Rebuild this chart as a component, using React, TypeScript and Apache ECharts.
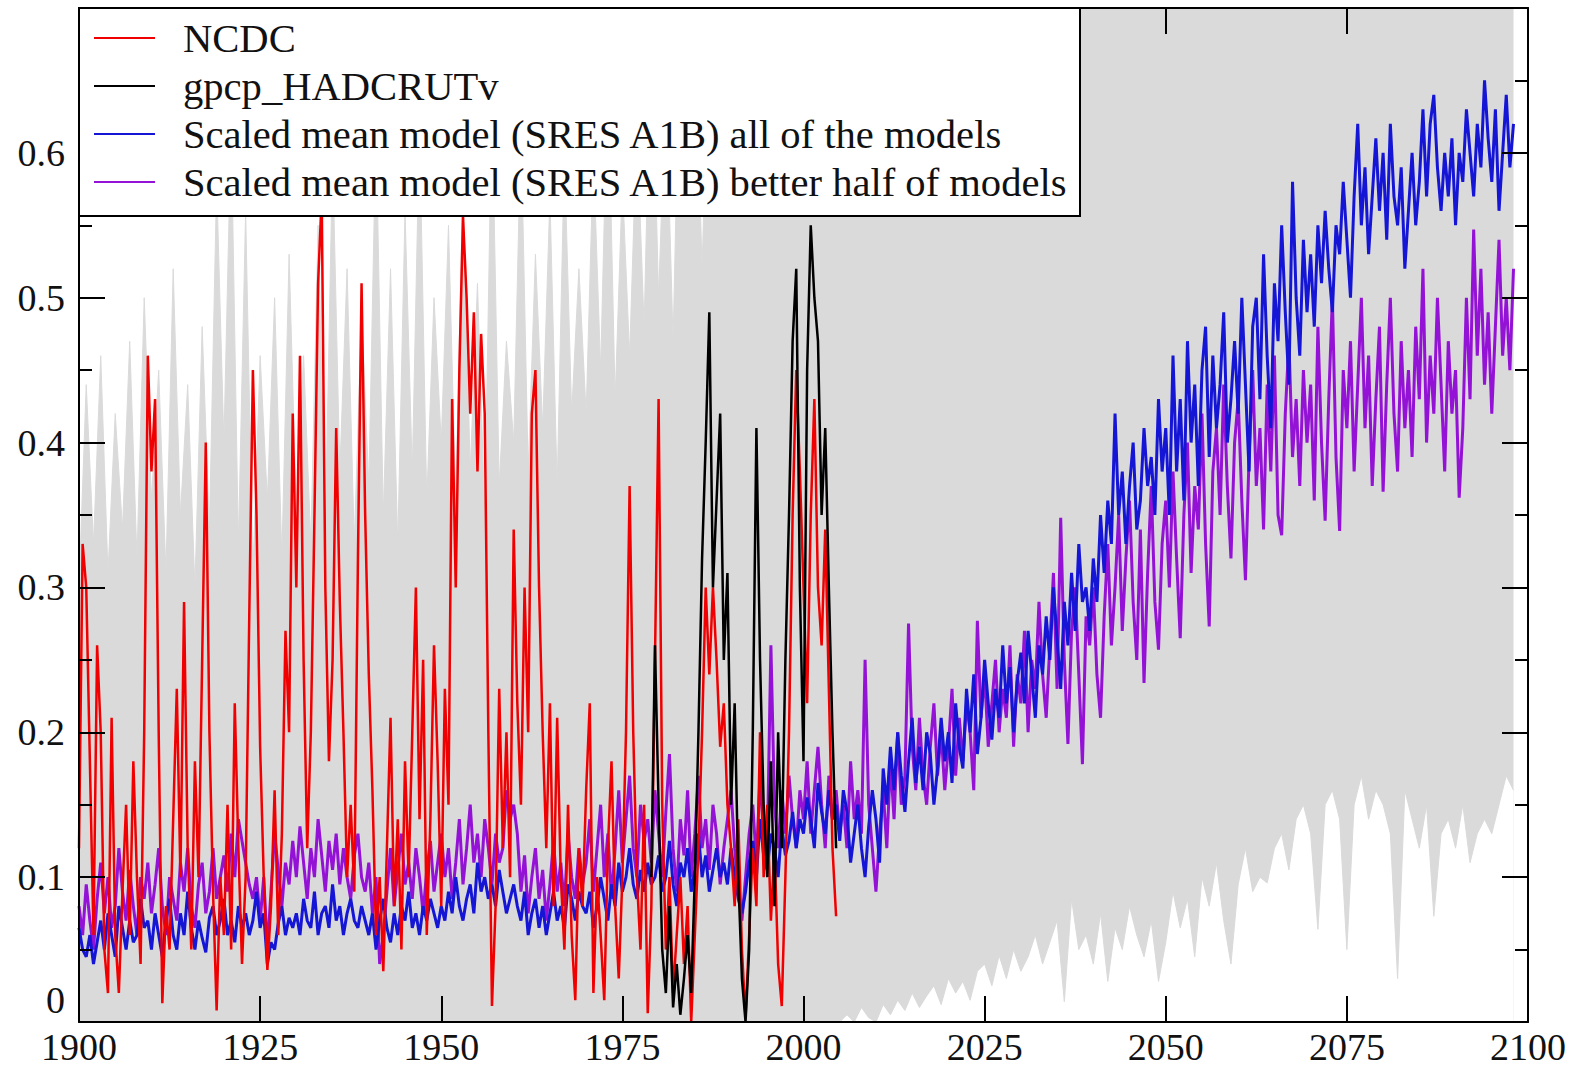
import React, { useEffect, useRef } from 'react';
import * as echarts from 'echarts';

const FONT = '"Liberation Serif", "Times New Roman", serif';

// axes
const xMin = 1900;
const xMax = 2100;
const xStep = 25;
const yMin = 0;
const yMax = 0.7;
const yStep = 0.1;

// legend / series names and colours
const seriesNames = [
  'NCDC',
  'gpcp_HADCRUTv',
  'Scaled mean model (SRES A1B) all of the models',
  'Scaled mean model (SRES A1B) better half of models',
];
const seriesColors = ['#f00000', '#000000', '#1515d6', '#9412d6'];
const bandColor = '#dadada';

// NCDC, half-year steps from 1900.0
const ncdcStart = 1900;
const ncdc = [
  0.12, 0.33, 0.3, 0.18, 0.06, 0.26, 0.2, 0.05, 0.02, 0.21, 0.06, 0.02, 0.09, 0.15, 0.06, 0.18, 0.1, 0.04, 0.2, 0.46,
  0.38, 0.43, 0.2, 0.013, 0.08, 0.05, 0.14, 0.23, 0.1, 0.29, 0.12, 0.05, 0.18, 0.1, 0.25, 0.4, 0.2, 0.09, 0.008, 0.1,
  0.06, 0.15, 0.05, 0.22, 0.12, 0.04, 0.1, 0.28, 0.45, 0.35, 0.19, 0.1, 0.036, 0.08, 0.16, 0.06, 0.13, 0.27, 0.2, 0.42,
  0.3, 0.46, 0.25, 0.12, 0.2, 0.35, 0.51, 0.57, 0.3, 0.18, 0.25, 0.41, 0.29, 0.2, 0.1, 0.15, 0.09, 0.32, 0.51, 0.35,
  0.24, 0.16, 0.06, 0.1, 0.035, 0.12, 0.21, 0.08, 0.14, 0.05, 0.18, 0.1, 0.2, 0.3, 0.14, 0.25, 0.06, 0.14, 0.26, 0.18,
  0.08, 0.23, 0.15, 0.43, 0.3, 0.45, 0.556, 0.5, 0.42, 0.49, 0.38, 0.475, 0.42, 0.2, 0.011, 0.08, 0.23, 0.12, 0.2, 0.1,
  0.34, 0.22, 0.15, 0.3, 0.2, 0.42, 0.45, 0.3, 0.2, 0.12, 0.22, 0.08, 0.21, 0.1, 0.05, 0.15, 0.06, 0.015, 0.12, 0.08,
  0.16, 0.22, 0.02, 0.1, 0.06, 0.015, 0.12, 0.18, 0.08, 0.03, 0.1, 0.2, 0.37, 0.2, 0.1, 0.05, 0.15, 0.006, 0.08, 0.25,
  0.43, 0.15, 0.05, 0.1, 0.02, 0.06, 0.1, 0.04, 0.08, 0.0, 0.06, 0.12, 0.2, 0.3, 0.24, 0.3, 0.25, 0.19, 0.22, 0.15,
  0.12, 0.08, 0.14, 0.05, 0.003, 0.06, 0.12, 0.08, 0.2, 0.1, 0.15, 0.07, 0.12, 0.04, 0.011, 0.1, 0.2, 0.35, 0.45, 0.38,
  0.3, 0.22, 0.35, 0.43, 0.3, 0.26, 0.34, 0.23, 0.12, 0.073,
];

// gpcp_HADCRUTv, half-year steps from 1979.0
const hadStart = 1979;
const hadcrut = [
  0.1, 0.26, 0.15, 0.05, 0.02, 0.08, 0.01, 0.04, 0.005, 0.03, 0.06, 0.02, 0.1, 0.2, 0.32, 0.4, 0.49, 0.3, 0.36, 0.42,
  0.25, 0.31, 0.15, 0.22, 0.1, 0.03, 0.0, 0.05, 0.2, 0.41, 0.25, 0.15, 0.1, 0.18, 0.08, 0.2, 0.12, 0.25, 0.35, 0.47,
  0.52, 0.3, 0.18, 0.45, 0.55, 0.5, 0.47, 0.35, 0.41, 0.3, 0.2, 0.12,
];

// scaled mean model, all models, half-year steps from 1900.0
const modelStart = 1900;
const allModels = [
  0.065, 0.05, 0.045, 0.06, 0.04, 0.055, 0.07, 0.05, 0.075, 0.06, 0.045, 0.08, 0.065, 0.05, 0.07, 0.055, 0.06, 0.085, 0.065, 0.07,
  0.05, 0.075, 0.06, 0.045, 0.07, 0.085, 0.06, 0.05, 0.075, 0.06, 0.09, 0.065, 0.05, 0.07, 0.058, 0.048, 0.072, 0.08, 0.06, 0.07,
  0.085, 0.06, 0.07, 0.055, 0.08, 0.065, 0.075, 0.06, 0.07, 0.09, 0.065, 0.075, 0.04, 0.055, 0.05, 0.068, 0.08, 0.06, 0.072, 0.065,
  0.075, 0.06, 0.085, 0.07, 0.065, 0.09, 0.06, 0.075, 0.08, 0.065, 0.095, 0.07, 0.08, 0.06, 0.075, 0.085, 0.07, 0.065, 0.08, 0.07,
  0.06, 0.075, 0.05, 0.07, 0.085, 0.065, 0.055, 0.075, 0.06, 0.08, 0.07, 0.09, 0.065, 0.075, 0.06, 0.08, 0.07, 0.085, 0.075, 0.065,
  0.08, 0.07, 0.09, 0.075, 0.1, 0.08, 0.07, 0.085, 0.095, 0.075, 0.11, 0.09, 0.1, 0.085, 0.095, 0.08, 0.105, 0.09, 0.075, 0.085,
  0.095, 0.08, 0.07, 0.09, 0.06, 0.075, 0.085, 0.065, 0.08, 0.06, 0.075, 0.09, 0.07, 0.08, 0.065, 0.095, 0.085, 0.07, 0.09, 0.08,
  0.075, 0.09, 0.065, 0.08, 0.1, 0.085, 0.07, 0.095, 0.08, 0.11, 0.09, 0.1, 0.12, 0.095, 0.085, 0.105, 0.09, 0.11, 0.095, 0.1,
  0.115, 0.09, 0.1, 0.125, 0.095, 0.08, 0.11, 0.1, 0.12, 0.09, 0.105, 0.13, 0.1, 0.115, 0.09, 0.105, 0.12, 0.1, 0.11, 0.095,
  0.12, 0.1, 0.085, 0.075, 0.09, 0.11, 0.125, 0.1, 0.14, 0.115, 0.105, 0.13, 0.12, 0.1, 0.135, 0.115, 0.125, 0.145, 0.12, 0.14,
  0.13, 0.155, 0.14, 0.12, 0.165, 0.145, 0.13, 0.16, 0.14, 0.15, 0.125, 0.16, 0.145, 0.11, 0.13, 0.15, 0.12, 0.1, 0.135, 0.16,
  0.14, 0.11, 0.175, 0.15, 0.19, 0.16, 0.2, 0.17, 0.145, 0.18, 0.21, 0.165, 0.19, 0.16, 0.2, 0.185, 0.15, 0.175, 0.21, 0.18,
  0.2, 0.165, 0.22, 0.19, 0.175, 0.23, 0.2, 0.24, 0.185, 0.21, 0.25, 0.22, 0.195, 0.23, 0.21, 0.26, 0.22, 0.245, 0.2, 0.235,
  0.255, 0.22, 0.27, 0.24, 0.21, 0.26, 0.24, 0.28, 0.25, 0.3, 0.265, 0.23, 0.29, 0.26, 0.31, 0.27, 0.33, 0.29, 0.3, 0.27,
  0.32, 0.29, 0.35, 0.31, 0.36, 0.33, 0.42, 0.35, 0.38, 0.33, 0.37, 0.4, 0.34, 0.36, 0.41, 0.37, 0.39, 0.35, 0.43, 0.38,
  0.41, 0.35, 0.46, 0.38, 0.43, 0.36, 0.47, 0.4, 0.44, 0.37, 0.45, 0.48, 0.39, 0.46, 0.41, 0.44, 0.49, 0.4, 0.43, 0.47,
  0.42, 0.5, 0.44, 0.38, 0.48, 0.5, 0.43, 0.53, 0.46, 0.41, 0.51, 0.47, 0.55, 0.49, 0.44, 0.58, 0.5, 0.46, 0.54, 0.49,
  0.53, 0.48, 0.55, 0.51, 0.56, 0.52, 0.49, 0.55, 0.53, 0.58, 0.54, 0.5, 0.57, 0.62, 0.55, 0.59, 0.53, 0.57, 0.61, 0.56,
  0.6, 0.54, 0.62, 0.57, 0.55, 0.59, 0.52, 0.56, 0.6, 0.55, 0.58, 0.63, 0.57, 0.62, 0.64, 0.59, 0.56, 0.6, 0.57, 0.61,
  0.55, 0.6, 0.58, 0.63, 0.6, 0.57, 0.62, 0.59, 0.65, 0.61, 0.58, 0.63, 0.56, 0.6, 0.64, 0.59, 0.62,
];

// scaled mean model, better half, half-year steps from 1900.0
const betterHalf = [
  0.08, 0.06, 0.095, 0.07, 0.05, 0.085, 0.11, 0.075, 0.1, 0.065, 0.08, 0.12, 0.09, 0.07, 0.105, 0.08, 0.06, 0.1, 0.085, 0.11,
  0.075, 0.095, 0.12, 0.08, 0.06, 0.1, 0.085, 0.07, 0.11, 0.09, 0.12, 0.08, 0.065, 0.095, 0.11, 0.075, 0.09, 0.12, 0.085, 0.1,
  0.115, 0.09, 0.13, 0.1, 0.14, 0.125, 0.11, 0.095, 0.085, 0.1, 0.07, 0.1, 0.05, 0.09, 0.13, 0.105, 0.08, 0.11, 0.095, 0.125,
  0.1, 0.135, 0.11, 0.085, 0.12, 0.1, 0.14, 0.115, 0.09, 0.125, 0.105, 0.13, 0.095, 0.12, 0.1, 0.085, 0.115, 0.13, 0.1, 0.09,
  0.11, 0.075, 0.1, 0.04, 0.06, 0.09, 0.12, 0.08, 0.105, 0.13, 0.095, 0.11, 0.085, 0.12, 0.1, 0.075, 0.105, 0.125, 0.09, 0.11,
  0.13, 0.1, 0.12, 0.085, 0.11, 0.14, 0.095, 0.12, 0.15, 0.11, 0.13, 0.1, 0.14, 0.12, 0.095, 0.13, 0.11, 0.12, 0.16, 0.14,
  0.15, 0.13, 0.09, 0.115, 0.075, 0.1, 0.12, 0.085, 0.105, 0.07, 0.095, 0.125, 0.09, 0.11, 0.08, 0.13, 0.1, 0.085, 0.12, 0.095,
  0.11, 0.14, 0.09, 0.12, 0.15, 0.1, 0.13, 0.085, 0.12, 0.16, 0.11, 0.14, 0.17, 0.12, 0.1, 0.15, 0.125, 0.14, 0.11, 0.16,
  0.13, 0.1, 0.145, 0.185, 0.12, 0.09, 0.14, 0.115, 0.16, 0.1, 0.13, 0.17, 0.12, 0.14, 0.105, 0.15, 0.13, 0.095, 0.12, 0.14,
  0.16, 0.12, 0.09, 0.07, 0.1, 0.13, 0.15, 0.11, 0.17, 0.13, 0.12, 0.26, 0.15, 0.12, 0.16, 0.13, 0.17, 0.14, 0.12, 0.16,
  0.14, 0.18, 0.13, 0.16, 0.19, 0.15, 0.12, 0.17, 0.14, 0.16, 0.13, 0.15, 0.12, 0.18, 0.14, 0.16, 0.13, 0.25, 0.15, 0.12,
  0.09, 0.13, 0.16, 0.12, 0.18, 0.14, 0.2, 0.15, 0.17, 0.275, 0.19, 0.16, 0.21, 0.17, 0.15, 0.19, 0.22, 0.17, 0.2, 0.16,
  0.19, 0.23, 0.17, 0.21, 0.18, 0.22, 0.2, 0.16, 0.277, 0.21, 0.24, 0.19, 0.22, 0.25, 0.2, 0.23, 0.21, 0.26, 0.19, 0.24,
  0.22, 0.27, 0.2, 0.25, 0.23, 0.29, 0.24, 0.21, 0.26, 0.31, 0.23, 0.348, 0.25, 0.192, 0.27, 0.3, 0.24, 0.178, 0.28, 0.26,
  0.3, 0.24, 0.21, 0.28, 0.33, 0.26, 0.3, 0.35, 0.27, 0.32, 0.36, 0.29, 0.25, 0.34, 0.234, 0.31, 0.37, 0.29, 0.257, 0.33,
  0.36, 0.3, 0.38, 0.32, 0.265, 0.35, 0.4, 0.31, 0.37, 0.34, 0.42, 0.33, 0.273, 0.38, 0.41, 0.35, 0.44, 0.37, 0.32, 0.4,
  0.43, 0.36, 0.305, 0.39, 0.45, 0.37, 0.41, 0.34, 0.44, 0.38, 0.46, 0.35, 0.336, 0.42, 0.47, 0.39, 0.43, 0.37, 0.45, 0.4,
  0.44, 0.36, 0.48, 0.4, 0.346, 0.43, 0.5, 0.39, 0.339, 0.45, 0.41, 0.47, 0.38, 0.44, 0.5, 0.41, 0.46, 0.37, 0.43, 0.48,
  0.366, 0.44, 0.5, 0.42, 0.38, 0.47, 0.41, 0.45, 0.39, 0.48, 0.43, 0.52, 0.4, 0.46, 0.42, 0.5, 0.44, 0.38, 0.47, 0.42,
  0.45, 0.362, 0.41, 0.5, 0.43, 0.547, 0.46, 0.52, 0.44, 0.49, 0.42, 0.48, 0.54, 0.46, 0.5, 0.45, 0.52,
];

// model spread (grey band), yearly from 1900
const bandStart = 1900;
const bandHigh = [
  0.3, 0.44, 0.33, 0.46, 0.31, 0.42, 0.34, 0.47, 0.32, 0.5,
  0.36, 0.45, 0.31, 0.52, 0.35, 0.44, 0.3, 0.48, 0.34, 0.58,
  0.4, 0.62, 0.33, 0.56, 0.31, 0.46, 0.36, 0.5, 0.32, 0.53,
  0.35, 0.46, 0.33, 0.55, 0.34, 0.6, 0.38, 0.52, 0.33, 0.49,
  0.37, 0.62, 0.35, 0.52, 0.33, 0.56, 0.38, 0.62, 0.36, 0.5,
  0.4, 0.55, 0.36, 0.58, 0.38, 0.51, 0.35, 0.64, 0.37, 0.47,
  0.4, 0.62, 0.38, 0.53, 0.41, 0.57, 0.37, 0.6, 0.42, 0.52,
  0.42, 0.6, 0.45, 0.66, 0.43, 0.58, 0.46, 0.62, 0.48, 0.7,
  0.5, 0.65, 0.47, 0.7, 0.55, 0.7, 0.52, 0.7, 0.58, 0.7,
  0.6, 0.7, 0.55, 0.7, 0.62, 0.7, 0.58, 0.7, 0.66, 0.7,
  0.7, 0.6, 0.7, 0.64, 0.7, 0.56, 0.7, 0.62, 0.7, 0.66,
  0.7, 0.6, 0.7, 0.7, 0.64, 0.7, 0.7, 0.68, 0.7, 0.7,
  0.7, 0.66, 0.7, 0.7, 0.68, 0.7, 0.7, 0.7, 0.65, 0.7,
  0.7, 0.7, 0.7, 0.7, 0.7, 0.7, 0.7, 0.7, 0.7, 0.7,
  0.7, 0.7, 0.7, 0.7, 0.7, 0.7, 0.7, 0.7, 0.7, 0.7,
  0.7, 0.7, 0.7, 0.7, 0.7, 0.7, 0.7, 0.7, 0.7, 0.7,
  0.7, 0.7, 0.7, 0.7, 0.7, 0.7, 0.7, 0.7, 0.7, 0.7,
  0.7, 0.7, 0.7, 0.7, 0.7, 0.7, 0.7, 0.7, 0.7, 0.7,
  0.7, 0.7, 0.7, 0.7, 0.7, 0.7, 0.7, 0.7, 0.7, 0.7,
  0.7, 0.7, 0.7, 0.7, 0.7, 0.7, 0.7, 0.7, 0.7,
];
const bandLow = [
  0, 0, 0, 0, 0, 0, 0, 0, 0, 0,
  0, 0, 0, 0, 0, 0, 0, 0, 0, 0,
  0, 0, 0, 0, 0, 0, 0, 0, 0, 0,
  0, 0, 0, 0, 0, 0, 0, 0, 0, 0,
  0, 0, 0, 0, 0, 0, 0, 0, 0, 0,
  0, 0, 0, 0, 0, 0, 0, 0, 0, 0,
  0, 0, 0, 0, 0, 0, 0, 0, 0, 0,
  0, 0, 0, 0, 0, 0, 0, 0, 0, 0,
  0, 0, 0, 0, 0, 0, 0, 0, 0, 0,
  0, 0, 0, 0, 0, 0, 0, 0, 0, 0,
  0, 0, 0, 0, 0, 0, 0.005, 0, 0.01, 0.003,
  0, 0.012, 0.005, 0.015, 0.008, 0.02, 0.01, 0.018, 0.025, 0.012,
  0.03, 0.02, 0.028, 0.015, 0.035, 0.04, 0.025, 0.046, 0.03, 0.05,
  0.035, 0.045, 0.06, 0.04, 0.055, 0.07, 0.014, 0.085, 0.05, 0.06,
  0.04, 0.075, 0.028, 0.065, 0.05, 0.08, 0.06, 0.045, 0.07, 0.028,
  0.055, 0.09, 0.065, 0.085, 0.045, 0.1, 0.08, 0.11, 0.07, 0.04,
  0.095, 0.12, 0.09, 0.1, 0.096, 0.12, 0.13, 0.105, 0.14, 0.15,
  0.13, 0.064, 0.15, 0.16, 0.14, 0.05, 0.15, 0.17, 0.14, 0.16,
  0.15, 0.13, 0.03, 0.16, 0.14, 0.12, 0.15, 0.073, 0.13, 0.14,
  0.12, 0.15, 0.11, 0.13, 0.14, 0.13, 0.15, 0.17, 0.16,
];

function toPairs(start: number, step: number, vals: number[]) {
  return vals.map((v, i) => [start + i * step, v]);
}

export default function App() {
  const ref = useRef<HTMLDivElement>(null);

  useEffect(() => {
    if (!ref.current) return;
    const chart = echarts.init(ref.current, null, { renderer: 'svg' });

    const axisLineStyle = { color: '#000', width: 2 };

    const lineSeries = (name: string, color: string, data: number[][], z: number, width: number) => ({
      type: 'line',
      name,
      data,
      symbol: 'none',
      showSymbol: false,
      lineStyle: { color, width },
      itemStyle: { color },
      emphasis: { disabled: true },
      silent: true,
      z,
    });

    const legendRowsY = [38, 86, 134, 182];
    const legendGraphic: any[] = [
      {
        type: 'rect',
        shape: { x: 79, y: 8, width: 1001, height: 208 },
        style: { fill: '#fff', stroke: '#000', lineWidth: 2 },
        z: 50,
      },
    ];
    seriesNames.forEach((name, i) => {
      legendGraphic.push({
        type: 'line',
        shape: { x1: 94, y1: legendRowsY[i], x2: 155, y2: legendRowsY[i] },
        style: { stroke: seriesColors[i], lineWidth: 2 },
        z: 51,
      });
      legendGraphic.push({
        type: 'text',
        x: 183,
        y: legendRowsY[i],
        style: {
          text: name,
          fill: '#111',
          font: `40.6px ${FONT}`,
          verticalAlign: 'middle',
          align: 'left',
        },
        z: 51,
      });
    });

    const option: any = {
      animation: false,
      backgroundColor: '#fff',
      grid: { left: 79, right: 57, top: 8, bottom: 49, outerBoundsMode: 'none' },
      xAxis: [
        {
          type: 'value',
          min: xMin,
          max: xMax,
          interval: xStep,
          position: 'bottom',
          axisLine: { onZero: false, lineStyle: axisLineStyle },
          axisTick: { inside: true, length: 26, lineStyle: axisLineStyle },
          axisLabel: {
            fontSize: 38,
            fontFamily: FONT,
            color: '#111',
            margin: 6,
            lineHeight: 38,
            showMinLabel: true,
            showMaxLabel: true,
            formatter: (v: number) => String(Math.round(v)),
          },
          splitLine: { show: false },
          z: 10,
        },
        {
          type: 'value',
          min: xMin,
          max: xMax,
          interval: xStep,
          position: 'top',
          axisLine: { onZero: false, lineStyle: axisLineStyle },
          axisTick: { inside: true, length: 26, lineStyle: axisLineStyle },
          axisLabel: { show: false },
          splitLine: { show: false },
          z: 10,
        },
      ],
      yAxis: [
        {
          type: 'value',
          min: yMin,
          max: yMax,
          interval: yStep,
          position: 'left',
          axisLine: { onZero: false, lineStyle: axisLineStyle },
          axisTick: { inside: true, length: 26, lineStyle: axisLineStyle },
          minorTick: { show: true, splitNumber: 2, length: 13, lineStyle: axisLineStyle },
          axisLabel: {
            fontSize: 38,
            fontFamily: FONT,
            color: '#111',
            margin: 14,
            lineHeight: 38,
            formatter: (v: number) => {
              if (Math.abs(v) < 1e-9) return '{zero|0}';
              if (Math.abs(v - yMax) < 1e-9) return '';
              return v.toFixed(1);
            },
            rich: {
              zero: { fontSize: 38, fontFamily: FONT, color: '#111', lineHeight: 30, padding: [0, 0, 44, 0] },
            },
          },
          splitLine: { show: false },
          minorSplitLine: { show: false },
          z: 10,
        },
        {
          type: 'value',
          min: yMin,
          max: yMax,
          interval: yStep,
          position: 'right',
          axisLine: { onZero: false, lineStyle: axisLineStyle },
          axisTick: { inside: true, length: 26, lineStyle: axisLineStyle },
          minorTick: { show: true, splitNumber: 2, length: 13, lineStyle: axisLineStyle },
          axisLabel: { show: false },
          splitLine: { show: false },
          minorSplitLine: { show: false },
          z: 10,
        },
      ],
      series: [
        {
          type: 'line',
          name: 'model spread (upper)',
          data: toPairs(bandStart, 1, bandHigh),
          symbol: 'none',
          showSymbol: false,
          lineStyle: { color: bandColor, width: 1 },
          areaStyle: { color: bandColor, opacity: 1, origin: 'start' },
          silent: true,
          z: 1,
        },
        {
          type: 'line',
          name: 'model spread (lower)',
          data: toPairs(bandStart, 1, bandLow),
          symbol: 'none',
          showSymbol: false,
          lineStyle: { color: bandColor, width: 1 },
          areaStyle: { color: '#ffffff', opacity: 1, origin: 'start' },
          silent: true,
          z: 1,
        },
        lineSeries(seriesNames[3], seriesColors[3], toPairs(modelStart, 0.5, betterHalf), 3, 3),
        lineSeries(seriesNames[2], seriesColors[2], toPairs(modelStart, 0.5, allModels), 4, 3),
        lineSeries(seriesNames[0], seriesColors[0], toPairs(ncdcStart, 0.5, ncdc), 5, 2.5),
        lineSeries(seriesNames[1], seriesColors[1], toPairs(hadStart, 0.5, hadcrut), 6, 2.5),
      ],
      graphic: { elements: legendGraphic },
    };

    chart.setOption(option);
    return () => chart.dispose();
  }, []);

  return (
    <div
      ref={ref}
      style={{ position: 'fixed', left: 0, top: 0, width: 1585, height: 1071, background: '#fff' }}
    />
  );
}
